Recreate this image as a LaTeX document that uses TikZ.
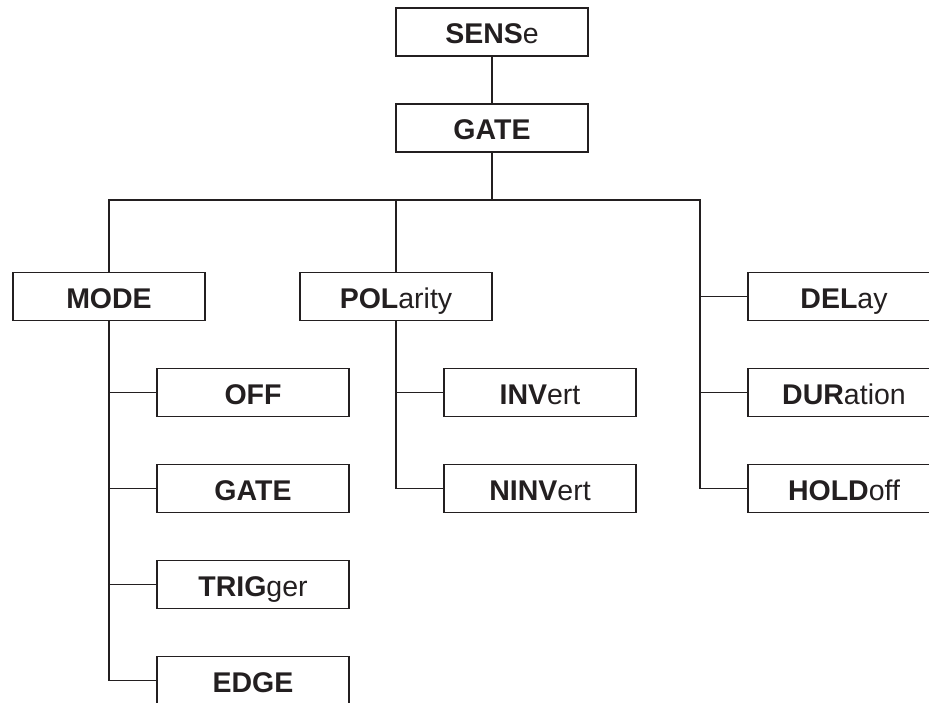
\documentclass[tikz,border=0pt]{standalone}
\usepackage{fontspec}
\setmainfont{Liberation Sans}
\usetikzlibrary{positioning}
\definecolor{ink}{RGB}{35,31,32}

\begin{document}
\begin{tikzpicture}[
        x = 1pt, y = 1pt,
        node distance = 96pt and 144pt,
        on grid,
        every node/.style = {text = ink, font = \fontsize{28.5}{32}\selectfont},
        cmd/.style = {draw = ink, line width = 1.3pt, minimum width = 192pt, minimum height = 48pt,
                      inner sep = 0pt, text height = 23pt, text depth = 0pt},
        link/.style = {draw = ink, line width = 1.3pt}
    ]

        \useasboundingbox (0,0) rectangle (929,-702);
        \clip (0,0) rectangle (929,-702);

        \node[cmd] (sense) at (492,-32) {\textbf{SENS}e};
        \node[cmd] (gate) [below = of sense] {\textbf{GATE}};
        \coordinate (rbus) at (700,-200);

        \node[cmd] (mode) at (109,-296.5) {\textbf{MODE}};
        \node[cmd] (pol) at (396,-296.5) {\textbf{POL}arity};
        \node[cmd] (del) at (844,-296.5) {\textbf{DEL}ay};

        \node[cmd] (off) [below right = of mode] {\textbf{OFF}};
        \node[cmd] (mgate) [below = of off] {\textbf{GATE}};
        \node[cmd] (trig) [below = of mgate] {\textbf{TRIG}ger};
        \node[cmd] (edge) [below = of trig] {\textbf{EDGE}};

        \node[cmd] (inv) [below right = of pol] {\textbf{INV}ert};
        \node[cmd] (ninv) [below = of inv] {\textbf{NINV}ert};

        \node[cmd] (dur) [below = of del] {\textbf{DUR}ation};
        \node[cmd] (hold) [below = of dur] {\textbf{HOLD}off};

        \path[link]
            (sense) -- (gate)
            (gate) -- (gate |- rbus)
            (mode.north) |- (rbus) |- (hold.west)
            (pol.north) -- (pol.north |- rbus)
            (mode.south) |- (edge.west)
            (pol.south) |- (ninv.west)
            (pol.south |- inv.west) -- (inv.west);

        \foreach \n in {off, mgate, trig}
            \draw[link] (mode.south |- \n.west) -- (\n.west);
        \foreach \n in {del, dur}
            \draw[link] (rbus |- \n.west) -- (\n.west);

    \end{tikzpicture}
\end{document}
